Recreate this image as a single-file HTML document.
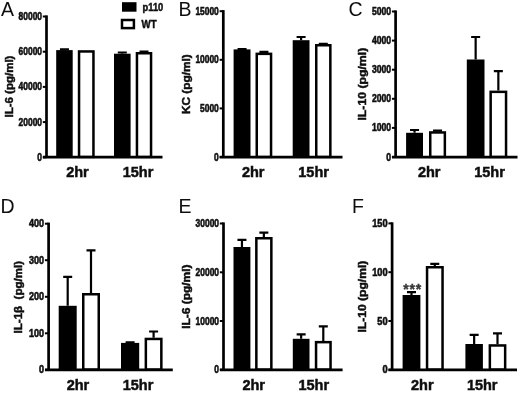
<!DOCTYPE html>
<html><head><meta charset="utf-8"><title>Figure</title>
<style>
html,body{margin:0;padding:0;background:#fff;}
body{width:520px;height:393px;overflow:hidden;}
svg{display:block;font-family:"Liberation Sans",sans-serif;}
.pl{font-size:19.5px;fill:#111;}
.tk{font-size:10.6px;font-weight:bold;fill:#111;stroke:#111;stroke-width:0.6px;text-anchor:end;}
.yl{font-size:11.3px;font-weight:bold;fill:#111;stroke:#111;stroke-width:0.5px;text-anchor:middle;}
.xl{font-size:14.5px;font-weight:bold;fill:#111;stroke:#111;stroke-width:0.5px;text-anchor:middle;}
.lg{font-size:10.8px;font-weight:bold;fill:#111;stroke:#111;stroke-width:0.5px;}
.st{font-size:14px;font-weight:bold;fill:#3a3a3a;stroke:#3a3a3a;stroke-width:0.4px;letter-spacing:0.8px;text-anchor:middle;}
</style></head><body>
<svg width="520" height="393" viewBox="0 0 520 393">
<rect width="520" height="393" fill="#fff"/>
<g filter="url(#bl)">
<!-- panel A -->
<text class="pl" x="1.0" y="16">A</text>
<path d="M46.5 15.4V157.2" stroke="#000" stroke-width="2.7" fill="none"/>
<path d="M42.9 157.2H162.5" stroke="#000" stroke-width="2.8" fill="none"/>
<path d="M42.8 16.5H46.5" stroke="#000" stroke-width="2"/>
<text class="tk" transform="translate(42.00 20.05) scale(0.795 1)">80000</text>
<path d="M42.8 51.7H46.5" stroke="#000" stroke-width="2"/>
<text class="tk" transform="translate(42.00 55.25) scale(0.795 1)">60000</text>
<path d="M42.8 86.9H46.5" stroke="#000" stroke-width="2"/>
<text class="tk" transform="translate(42.00 90.45) scale(0.795 1)">40000</text>
<path d="M42.8 122.1H46.5" stroke="#000" stroke-width="2"/>
<text class="tk" transform="translate(42.00 125.65) scale(0.795 1)">20000</text>
<path d="M42.8 157.3H46.5" stroke="#000" stroke-width="2"/>
<text class="tk" transform="translate(42.00 160.85) scale(0.795 1)">0</text>
<text class="yl" transform="translate(12.8 86.55) rotate(-90) scale(1.02 0.89)">IL-6 (pg/ml)</text>
<path d="M64.45 50.1V49.4M59.95 49.4H68.95" stroke="#000" stroke-width="2.2" fill="none"/>
<rect x="56.2" y="50.1" width="16.5" height="107.1" fill="#000"/>
<rect x="79.05" y="51.45" width="14.40" height="105.40" fill="#fff" stroke="#000" stroke-width="2.5"/>
<path d="M122.3 53.7V52.5M117.8 52.5H126.8" stroke="#000" stroke-width="2.2" fill="none"/>
<rect x="114" y="53.7" width="16.599999999999994" height="103.49999999999999" fill="#000"/>
<path d="M144.0 52.0V51.6M139.5 51.6H148.5" stroke="#000" stroke-width="2.2" fill="none"/>
<rect x="136.95" y="53.25" width="14.10" height="103.60" fill="#fff" stroke="#000" stroke-width="2.5"/>
<text class="xl" x="77.5" y="177.3">2hr</text>
<text class="xl" x="138" y="177.3">15hr</text>
<!-- panel B -->
<text class="pl" x="178.4" y="16">B</text>
<path d="M223.3 10.1V157.2" stroke="#000" stroke-width="2.7" fill="none"/>
<path d="M219.70000000000002 157.2H342.5" stroke="#000" stroke-width="2.8" fill="none"/>
<path d="M219.60000000000002 11.2H223.3" stroke="#000" stroke-width="2"/>
<text class="tk" transform="translate(218.80 14.75) scale(0.795 1)">15000</text>
<path d="M219.60000000000002 59.8H223.3" stroke="#000" stroke-width="2"/>
<text class="tk" transform="translate(218.80 63.35) scale(0.795 1)">10000</text>
<path d="M219.60000000000002 108.4H223.3" stroke="#000" stroke-width="2"/>
<text class="tk" transform="translate(218.80 111.95) scale(0.795 1)">5000</text>
<path d="M219.60000000000002 157H223.3" stroke="#000" stroke-width="2"/>
<text class="tk" transform="translate(218.80 160.55) scale(0.795 1)">0</text>
<text class="yl" transform="translate(189.9 84.20) rotate(-90) scale(1.043 0.92)">KC (pg/ml)</text>
<path d="M242.05 49.4V49.0M237.55 49.0H246.55" stroke="#000" stroke-width="2.2" fill="none"/>
<rect x="233.6" y="49.4" width="16.900000000000006" height="107.79999999999998" fill="#000"/>
<path d="M263.9 52.6V51.9M259.4 51.9H268.4" stroke="#000" stroke-width="2.2" fill="none"/>
<rect x="256.75" y="53.85" width="14.30" height="103.00" fill="#fff" stroke="#000" stroke-width="2.5"/>
<path d="M301.1 40.2V37M296.6 37H305.6" stroke="#000" stroke-width="2.2" fill="none"/>
<rect x="292.7" y="40.2" width="16.80000000000001" height="116.99999999999999" fill="#000"/>
<path d="M323.3 44.0V43.8M318.8 43.8H327.8" stroke="#000" stroke-width="2.2" fill="none"/>
<rect x="316.25" y="45.25" width="14.10" height="111.60" fill="#fff" stroke="#000" stroke-width="2.5"/>
<text class="xl" x="253.2" y="177.3">2hr</text>
<text class="xl" x="313.6" y="177.3">15hr</text>
<!-- panel C -->
<text class="pl" x="348.4" y="16.4">C</text>
<path d="M395.6 10.4V157.2" stroke="#000" stroke-width="2.7" fill="none"/>
<path d="M392.0 157.2H517.5" stroke="#000" stroke-width="2.8" fill="none"/>
<path d="M391.90000000000003 11.5H395.6" stroke="#000" stroke-width="2"/>
<text class="tk" transform="translate(391.10 15.05) scale(0.815 1)">5000</text>
<path d="M391.90000000000003 40.6H395.6" stroke="#000" stroke-width="2"/>
<text class="tk" transform="translate(391.10 44.15) scale(0.815 1)">4000</text>
<path d="M391.90000000000003 69.7H395.6" stroke="#000" stroke-width="2"/>
<text class="tk" transform="translate(391.10 73.25) scale(0.815 1)">3000</text>
<path d="M391.90000000000003 98.8H395.6" stroke="#000" stroke-width="2"/>
<text class="tk" transform="translate(391.10 102.35) scale(0.815 1)">2000</text>
<path d="M391.90000000000003 127.9H395.6" stroke="#000" stroke-width="2"/>
<text class="tk" transform="translate(391.10 131.45) scale(0.815 1)">1000</text>
<path d="M391.90000000000003 157H395.6" stroke="#000" stroke-width="2"/>
<text class="tk" transform="translate(391.10 160.55) scale(0.815 1)">0</text>
<text class="yl" transform="translate(366.0 84.15) rotate(-90) scale(1.085 0.91)">IL-10 (pg/ml)</text>
<path d="M414.55 132.8V130M410.05 130H419.05" stroke="#000" stroke-width="2.2" fill="none"/>
<rect x="406.1" y="132.8" width="16.899999999999977" height="24.399999999999977" fill="#000"/>
<path d="M437.55 131.2V130.7M433.05 130.7H442.05" stroke="#000" stroke-width="2.2" fill="none"/>
<rect x="430.25" y="132.45" width="14.60" height="24.40" fill="#fff" stroke="#000" stroke-width="2.5"/>
<path d="M475.65 59.5V37M471.15 37H480.15" stroke="#000" stroke-width="2.2" fill="none"/>
<rect x="466.8" y="59.5" width="17.69999999999999" height="97.69999999999999" fill="#000"/>
<path d="M498.35 90.6V71.1M493.85 71.1H502.85" stroke="#000" stroke-width="2.2" fill="none"/>
<rect x="490.65" y="91.85" width="15.40" height="65.00" fill="#fff" stroke="#000" stroke-width="2.5"/>
<text class="xl" x="429.2" y="177.3">2hr</text>
<text class="xl" x="489.5" y="177.3">15hr</text>
<!-- panel D -->
<text class="pl" x="0.5" y="212.5">D</text>
<path d="M48.6 222.6V369.8" stroke="#000" stroke-width="2.7" fill="none"/>
<path d="M45.0 369.8H172.8" stroke="#000" stroke-width="2.8" fill="none"/>
<path d="M44.9 223.7H48.6" stroke="#000" stroke-width="2"/>
<text class="tk" transform="translate(44.10 227.25) scale(0.85 1)">400</text>
<path d="M44.9 260.2H48.6" stroke="#000" stroke-width="2"/>
<text class="tk" transform="translate(44.10 263.75) scale(0.85 1)">300</text>
<path d="M44.9 296.8H48.6" stroke="#000" stroke-width="2"/>
<text class="tk" transform="translate(44.10 300.35) scale(0.85 1)">200</text>
<path d="M44.9 333.3H48.6" stroke="#000" stroke-width="2"/>
<text class="tk" transform="translate(44.10 336.85) scale(0.85 1)">100</text>
<path d="M44.9 369.8H48.6" stroke="#000" stroke-width="2"/>
<text class="tk" transform="translate(44.10 373.35) scale(0.85 1)">0</text>
<text class="yl" transform="translate(22.3 297.15) rotate(-90) scale(1.025 0.93)">IL-1β  (pg/ml)</text>
<path d="M67.7 305.8V276.8M63.2 276.8H72.2" stroke="#000" stroke-width="2.2" fill="none"/>
<rect x="58.7" y="305.8" width="18.0" height="64.0" fill="#000"/>
<path d="M91.0 293V250.3M86.5 250.3H95.5" stroke="#000" stroke-width="2.2" fill="none"/>
<rect x="83.25" y="294.25" width="15.50" height="75.20" fill="#fff" stroke="#000" stroke-width="2.5"/>
<path d="M130.1 342.9V342.4M125.6 342.4H134.6" stroke="#000" stroke-width="2.2" fill="none"/>
<rect x="121" y="342.9" width="18.19999999999999" height="26.900000000000034" fill="#000"/>
<path d="M153.6 337.7V331.5M149.1 331.5H158.1" stroke="#000" stroke-width="2.2" fill="none"/>
<rect x="145.85" y="338.95" width="15.50" height="30.50" fill="#fff" stroke="#000" stroke-width="2.5"/>
<text class="xl" x="78" y="389.9">2hr</text>
<text class="xl" x="138.0" y="389.9">15hr</text>
<!-- panel E -->
<text class="pl" x="178.4" y="212.5">E</text>
<path d="M223.5 222.4V369.8" stroke="#000" stroke-width="2.7" fill="none"/>
<path d="M219.9 369.8H342.6" stroke="#000" stroke-width="2.8" fill="none"/>
<path d="M219.8 223.5H223.5" stroke="#000" stroke-width="2"/>
<text class="tk" transform="translate(219.00 227.05) scale(0.795 1)">30000</text>
<path d="M219.8 272.3H223.5" stroke="#000" stroke-width="2"/>
<text class="tk" transform="translate(219.00 275.85) scale(0.795 1)">20000</text>
<path d="M219.8 321.0H223.5" stroke="#000" stroke-width="2"/>
<text class="tk" transform="translate(219.00 324.55) scale(0.795 1)">10000</text>
<path d="M219.8 369.8H223.5" stroke="#000" stroke-width="2"/>
<text class="tk" transform="translate(219.00 373.35) scale(0.795 1)">0</text>
<text class="yl" transform="translate(190.0 296.65) rotate(-90) scale(1.058 0.93)">IL-6 (pg/ml)</text>
<path d="M241.95 247V239.8M237.45 239.8H246.45" stroke="#000" stroke-width="2.2" fill="none"/>
<rect x="233.5" y="247" width="16.900000000000006" height="122.80000000000001" fill="#000"/>
<path d="M263.85 237.0V232.6M259.35 232.6H268.35" stroke="#000" stroke-width="2.2" fill="none"/>
<rect x="256.35" y="238.25" width="15.00" height="131.20" fill="#fff" stroke="#000" stroke-width="2.5"/>
<path d="M301.15 338.8V334.3M296.65 334.3H305.65" stroke="#000" stroke-width="2.2" fill="none"/>
<rect x="292.8" y="338.8" width="16.69999999999999" height="31.0" fill="#000"/>
<path d="M323.3 340.9V326.4M318.8 326.4H327.8" stroke="#000" stroke-width="2.2" fill="none"/>
<rect x="316.05" y="342.15" width="14.50" height="27.30" fill="#fff" stroke="#000" stroke-width="2.5"/>
<text class="xl" x="253.75" y="389.9">2hr</text>
<text class="xl" x="313.75" y="389.9">15hr</text>
<!-- panel F -->
<text class="pl" x="352.0" y="212.5">F</text>
<path d="M392.1 222.3V369.8" stroke="#000" stroke-width="2.7" fill="none"/>
<path d="M388.5 369.8H517" stroke="#000" stroke-width="2.8" fill="none"/>
<path d="M388.40000000000003 223.4H392.1" stroke="#000" stroke-width="2"/>
<text class="tk" transform="translate(387.60 226.95) scale(0.87 1)">150</text>
<path d="M388.40000000000003 272.2H392.1" stroke="#000" stroke-width="2"/>
<text class="tk" transform="translate(387.60 275.75) scale(0.87 1)">100</text>
<path d="M388.40000000000003 321.0H392.1" stroke="#000" stroke-width="2"/>
<text class="tk" transform="translate(387.60 324.55) scale(0.87 1)">50</text>
<path d="M388.40000000000003 369.8H392.1" stroke="#000" stroke-width="2"/>
<text class="tk" transform="translate(387.60 373.35) scale(0.87 1)">0</text>
<text class="yl" transform="translate(366.1 296.60) rotate(-90) scale(1.07 0.93)">IL-10 (pg/ml)</text>
<path d="M411.5 295V292.1M407.0 292.1H416.0" stroke="#000" stroke-width="2.2" fill="none"/>
<rect x="402.6" y="295" width="17.799999999999955" height="74.80000000000001" fill="#000"/>
<path d="M434.8 266V263.8M430.3 263.8H439.3" stroke="#000" stroke-width="2.2" fill="none"/>
<rect x="427.05" y="267.25" width="15.50" height="102.20" fill="#fff" stroke="#000" stroke-width="2.5"/>
<path d="M474.15 344.0V334.8M469.65 334.8H478.65" stroke="#000" stroke-width="2.2" fill="none"/>
<rect x="465.4" y="344.0" width="17.5" height="25.80000000000001" fill="#000"/>
<path d="M497.5 344.2V333.3M493.0 333.3H502.0" stroke="#000" stroke-width="2.2" fill="none"/>
<rect x="489.85" y="345.45" width="15.30" height="24.00" fill="#fff" stroke="#000" stroke-width="2.5"/>
<text class="xl" x="422.3" y="389.9">2hr</text>
<text class="xl" x="482.2" y="389.9">15hr</text>
<!-- legend -->
<rect x="122" y="2.2" width="14.5" height="9.5" fill="#000"/>
<rect x="122.0" y="20.0" width="11.9" height="8.1" fill="#fff" stroke="#000" stroke-width="2.5"/>
<text class="lg" transform="translate(142.6 11) scale(0.86 1)">p110</text>
<text class="lg" transform="translate(141.6 28) scale(0.9 1)">WT</text>
<text class="st" x="412.7" y="294.2">***</text>
</g>
<defs><filter id="bl" x="0" y="0" width="520" height="393" filterUnits="userSpaceOnUse"><feGaussianBlur stdDeviation="0.6"/></filter></defs>
</svg></body></html>
